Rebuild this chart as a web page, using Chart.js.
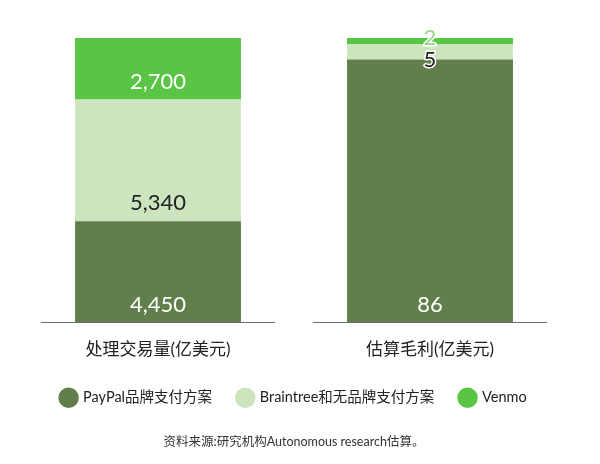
<!DOCTYPE html>
<html>
<head>
<meta charset="utf-8">
<script src="https://cdn.jsdelivr.net/npm/chart.js@4/dist/chart.umd.min.js"></script>
<style>
  html, body { margin: 0; padding: 0; background: #fff; }
  #wrap { width: 600px; height: 464px; }
</style>
</head>
<body>
<div id="wrap"><canvas id="myChart"></canvas></div>
<script>
const categories = ["处理交易量(亿美元)", "估算毛利(亿美元)"];
const seriesNames = ["PayPal品牌支付方案", "Braintree和无品牌支付方案", "Venmo"];
const paypal = [4450, 86];
const braintree = [5340, 5];
const venmo = [2700, 2];
const source = "资料来源:研究机构Autonomous research估算。";

const FONT = 'Lato, "Noto Sans CJK SC", sans-serif';
const raw = [paypal, braintree, venmo];
const totals = categories.map((c, i) => paypal[i] + braintree[i] + venmo[i]);

// each bar is shown as 100%, label shows the raw number
const colors = ["#617f4a", "#cde5bf", "#5ac544"];
const insideText = ["#ffffff", "#222222", "#ffffff"];
const outsideText = ["#ffffff", "#222222", "#93d983"];

const datasets = raw.map((vals, k) => ({
    label: seriesNames[k],
    data: vals.map((v, i) => v / totals[i] * 100),
    backgroundColor: colors[k],
    borderWidth: 0,
    categoryPercentage: 1,
    barPercentage: 0.61
}));

// labels near the bottom of each segment
const segLabels = {
    id: "segLabels",
    afterDatasetsDraw(chart) {
        const ctx = chart.ctx;
        ctx.save();
        ctx.font = "22px " + FONT;
        ctx.textAlign = "center";
        ctx.textBaseline = "middle";
        categories.forEach((c, i) => {
            let prevY = null;
            chart.data.datasets.forEach((ds, k) => {
                const bar = chart.getDatasetMeta(k).data[i];
                const h = bar.base - bar.y;
                const txt = raw[k][i].toLocaleString("en-US");
                let y;
                if (h >= 34) {
                    y = bar.base - 18;
                    ctx.fillStyle = insideText[k];
                    ctx.fillText(txt, bar.x, y);
                } else {
                    y = bar.base;
                    if (prevY !== null && y > prevY - 22) y = prevY - 22;
                    ctx.lineWidth = 3;
                    ctx.strokeStyle = "#ffffff";
                    ctx.strokeText(txt, bar.x, y);
                    ctx.fillStyle = outsideText[k];
                    ctx.fillText(txt, bar.x, y);
                }
                prevY = y;
            });
        });
        ctx.restore();
    }
};

// separate base line under each category
const baseLines = {
    id: "baseLines",
    afterDraw(chart) {
        const ctx = chart.ctx;
        const xs = chart.scales.x;
        const y = chart.chartArea.bottom;
        ctx.save();
        ctx.strokeStyle = "#6b6b6b";
        ctx.lineWidth = 1.2;
        categories.forEach((c, i) => {
            const cx = xs.getPixelForValue(i);
            ctx.beginPath();
            ctx.moveTo(cx - 117, y);
            ctx.lineTo(cx + 117, y);
            ctx.stroke();
        });
        ctx.restore();
    }
};

const myChart = new Chart(document.getElementById("myChart"), {
    type: "bar",
    data: { labels: categories, datasets },
    options: {
        responsive: true,
        maintainAspectRatio: false,
        animation: false,
        layout: { padding: { left: 22, right: 34, top: 38, bottom: 5 } },
        scales: {
            x: {
                stacked: true,
                grid: { display: false },
                border: { display: false },
                ticks: { color: "#222", font: { size: 17, family: FONT }, padding: 9 },
                afterFit(scale) { scale.height = 42; }
            },
            y: {
                stacked: true,
                display: false,
                min: 0,
                max: 100
            }
        },
        plugins: {
            legend: {
                position: "bottom",
                labels: {
                    usePointStyle: true,
                    pointStyle: "circle",
                    boxHeight: 14.5,
                    boxWidth: 14.5,
                    padding: 26,
                    color: "#222",
                    font: { size: 14.5, family: FONT }
                }
            },
            title: {
                display: true,
                position: "bottom",
                text: source,
                color: "#333",
                font: { size: 12.5, weight: "normal", family: FONT },
                padding: { top: 19, bottom: 10 }
            },
            tooltip: { enabled: false }
        }
    },
    plugins: [segLabels, baseLines]
});
</script>
</body>
</html>
